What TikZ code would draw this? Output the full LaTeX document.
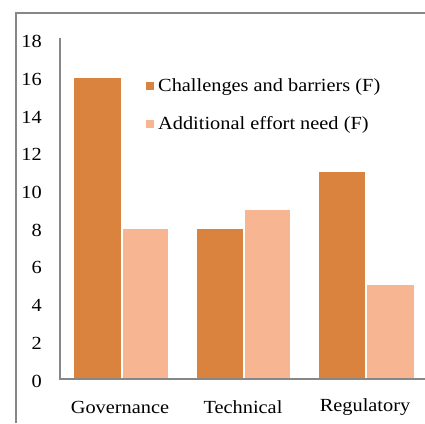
\documentclass[tikz,border=0pt]{standalone}
\usepackage{fontspec}
\setmainfont{Liberation Serif}[FakeStretch=1.1]
\definecolor{darkor}{HTML}{D9833F}
\definecolor{lightor}{HTML}{F8B591}
\definecolor{axgray}{HTML}{878787}
\begin{document}
\begin{tikzpicture}[x=1pt,y=1pt,
  bar/.style={draw=white,line width=1pt},
  ticklab/.style={anchor=east,inner sep=0pt,font=\fontsize{18.5}{18.5}\selectfont},
  catlab/.style={anchor=center,inner sep=0pt,font=\fontsize{18.5}{18.5}\selectfont},
  leglab/.style={anchor=west,inner sep=0pt,font=\fontsize{18.5}{18.5}\selectfont}]
\useasboundingbox (0,0) rectangle (425,423);
\fill[white] (0,0) rectangle (425,423);
% frame
\draw[axgray,line width=1.5pt] (16,0) -- (16,410) -- (426,410);
% bars
\def\s{18.85}
\def\b{44}
\fill[darkor,bar] (73,\b) rectangle (121,{\b+16*\s});
\fill[lightor,bar] (122,\b) rectangle (168,{\b+8*\s});
\fill[darkor,bar] (196,\b) rectangle (243,{\b+8*\s});
\fill[lightor,bar] (244,\b) rectangle (290,{\b+9*\s});
\fill[darkor,bar] (318,\b) rectangle (365,{\b+11*\s});
\fill[lightor,bar] (366,\b) rectangle (414,{\b+5*\s});
% axes
\draw[axgray,line width=2pt] (60,385) -- (60,\b) -- (426,\b);
% tick labels
\foreach \v in {0,2,...,18} {
  \node[ticklab] (t\v) at (42,{\b+\v*\s-2}) {\v};
}
% categories
\node[catlab] (c1) at (120,16) {Governance};
\node[catlab] (c2) at (243,16) {Technical};
\node[catlab] (c3) at (365,16) {Regulatory};
% legend
\fill[darkor] (146,333) rectangle (154,341);
\node[leglab] (l1) at (158,336) {Challenges and barriers (F)};
\fill[lightor] (146,295) rectangle (154,303);
\node[leglab] (l2) at (158,298) {Additional effort need (F)};
\end{tikzpicture}
\end{document}
